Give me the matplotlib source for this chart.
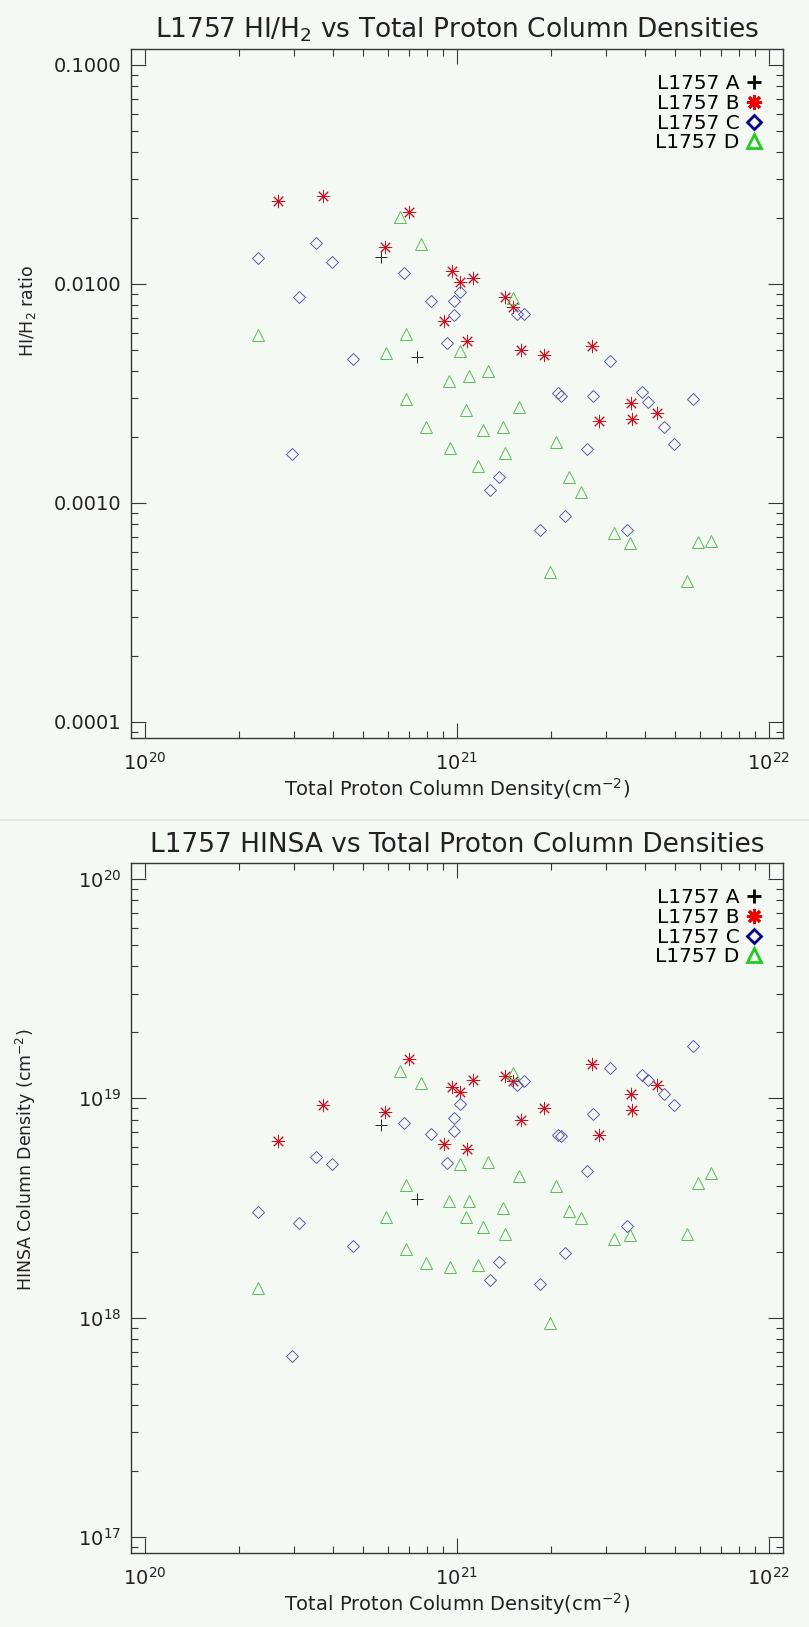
import matplotlib.pyplot as plt
from matplotlib.lines import Line2D
from matplotlib.ticker import FuncFormatter

plt.rcParams['font.family'] = 'DejaVu Sans'
plt.rcParams['mathtext.fontset'] = 'dejavusans'

bg = '#f4f9f4'
axcol = '#363636'

# total proton column density, in units of 1e20 cm^-2
ntot_a = [5.71, 7.43]
ntot_b = [2.66, 3.72, 7.03, 5.86, 9.67, 10.26, 11.28, 9.12, 10.75, 14.28, 15.15,
          15.99, 18.95, 27.15, 36.13, 36.39, 43.75, 28.52]
ntot_c = [2.31, 3.53, 3.98, 6.77, 3.11, 8.26, 9.29, 4.65, 10.20, 9.77, 9.77, 15.61,
          16.39, 30.93, 21.12, 21.54, 27.21, 39.26, 41.04, 56.94, 46.17, 49.53,
          26.04, 13.60, 12.79, 22.27, 18.45, 34.99, 2.97]
ntot_d = [6.57, 7.67, 2.31, 6.86, 5.92, 9.46, 6.86, 15.15, 10.24, 10.95, 12.61,
          10.69, 15.76, 7.98, 12.13, 14.09, 9.53, 14.30, 20.84, 11.67, 22.86,
          25.06, 31.93, 35.94, 59.31, 65.04, 19.87, 54.60]

# HI/H2 ratio
ratio_a = [0.01324, 0.00463]
ratio_b = [0.0240, 0.0252, 0.0214, 0.0147, 0.0115, 0.0102, 0.0107, 0.00678, 0.00551,
           0.00875, 0.00782, 0.00499, 0.00472, 0.00519, 0.00285, 0.00242, 0.00257,
           0.00238]
ratio_c = [0.0131, 0.01534, 0.01256, 0.01126, 0.00875, 0.00835, 0.00540, 0.00453,
           0.00922, 0.00837, 0.00722, 0.00730, 0.00730, 0.00446, 0.00317, 0.00309,
           0.00309, 0.00320, 0.00290, 0.00298, 0.00223, 0.00186, 0.00177, 0.00132,
           0.00115, 0.000875, 0.000753, 0.000753, 0.00168]
ratio_d = [0.0202, 0.0153, 0.00585, 0.00589, 0.00483, 0.00361, 0.00297, 0.00860,
           0.00494, 0.00381, 0.00399, 0.00266, 0.00274, 0.00222, 0.00215, 0.00222,
           0.00179, 0.00169, 0.00189, 0.00148, 0.00132, 0.00112, 0.00073, 0.000657,
           0.000665, 0.000671, 0.000484, 0.00044]

# HINSA column density, in units of 1e18 cm^-2
hinsa_a = [7.58, 3.46]
hinsa_b = [6.38, 9.29, 15.18, 8.66, 11.26, 10.69, 12.17, 6.21, 5.89, 12.64, 11.96,
           7.99, 9.07, 14.30, 10.43, 8.88, 11.47, 6.83]
hinsa_c = [3.03, 5.40, 5.00, 7.71, 2.70, 6.90, 5.07, 2.12, 9.39, 8.17, 7.07, 11.47,
           11.96, 13.81, 6.78, 6.70, 8.45, 12.74, 12.08, 17.28, 10.51, 9.29, 4.66,
           1.80, 1.49, 1.97, 1.43, 2.61, 0.671]
hinsa_d = [13.33, 11.75, 1.37, 4.01, 2.87, 3.40, 2.06, 13.05, 5.03, 3.40, 5.12,
           2.87, 4.40, 1.78, 2.60, 3.17, 1.71, 2.41, 3.97, 1.74, 3.06, 2.85, 2.29,
           2.37, 4.10, 4.56, 0.949, 2.41]

labels = ['L1757 A', 'L1757 B', 'L1757 C', 'L1757 D']
ntot = [ntot_a, ntot_b, ntot_c, ntot_d]
ratios = [ratio_a, ratio_b, ratio_c, ratio_d]
hinsas = [hinsa_a, hinsa_b, hinsa_c, hinsa_d]

# marker, size, colour for the points / for the key
styles = [
    dict(marker='+', ms=8.5, color='#222222', key='black'),
    dict(marker=(8, 2, 0), ms=9.5, color='#cc1020', key='#ee0000'),
    dict(marker='D', ms=6.2, color='#5a5aa8', key='#000090'),
    dict(marker='^', ms=8.5, color='#55c055', key='#22cc22'),
]


def draw_panel(ax, ys, yscale, title, ylabel, ylab_pos):
    ax.set_facecolor(bg)
    for x, y, st in zip(ntot, ys, styles):
        ax.plot([v * 1e20 for v in x], [v * yscale for v in y], ls='none',
                marker=st['marker'], ms=st['ms'], mew=0.7, mfc='none',
                mec=st['color'])
    ax.set_xscale('log')
    ax.set_yscale('log')
    ax.set_xlim(9.02e19, 1.109e22)
    ax.set_title(title, fontsize=19, pad=8, color='#222222')
    ax.set_ylabel(ylabel, fontsize=12.5, color='#222222')
    ax.yaxis.set_label_coords(-0.143, ylab_pos)
    ax.set_xlabel('Total Proton Column Density(cm$^{-2}$)', fontsize=14,
                  color='#222222', labelpad=2)
    ax.tick_params(which='both', direction='in', top=True, right=True,
                   color=axcol, width=0.8, labelsize=14, labelcolor='#222222')
    ax.tick_params(which='major', length=10.5, pad=7)
    ax.tick_params(axis='x', which='major', pad=10)
    ax.tick_params(which='minor', length=5)
    for sp in ax.spines.values():
        sp.set_color(axcol)
        sp.set_linewidth(1.0)

    handles = [Line2D([], [], ls='none', marker=st['marker'],
                      ms=st['ms'] * 1.15, mew=2.0, mfc='none', mec=st['key'])
               for st in styles]
    ax.legend(handles, labels, loc='upper right', bbox_to_anchor=(0.966, 0.963),
              frameon=False, markerfirst=False, handlelength=0.7,
              handletextpad=0.35, labelspacing=0.03, borderpad=0, fontsize=14.5,
              borderaxespad=0)


fig = plt.figure(figsize=(8.09, 16.27), dpi=100, facecolor=bg)
ax1 = fig.add_axes([0.1619, 0.5464, 0.8059, 0.4235])
ax2 = fig.add_axes([0.1619, 0.0455, 0.8059, 0.4241])

draw_panel(ax1, ratios, 1.0, 'L1757 HI/H$_2$ vs Total Proton Column Densities',
           'HI/H$_2$ ratio', 0.62)
ax1.set_ylim(8.45e-5, 0.1183)
ax1.yaxis.set_major_formatter(FuncFormatter(lambda v, p: '%.4f' % v))

draw_panel(ax2, hinsas, 1e18, 'L1757 HINSA vs Total Proton Column Densities',
           'HINSA Column Density (cm$^{-2}$)', 0.57)
ax2.set_ylim(8.45e16, 1.183e20)

# thin seam between the two plots
fig.add_artist(Line2D([0, 1], [0.4963, 0.4963], transform=fig.transFigure,
                      color='#dfe4df', lw=1.2))

fig.savefig('out.png', dpi=100, facecolor=bg)
